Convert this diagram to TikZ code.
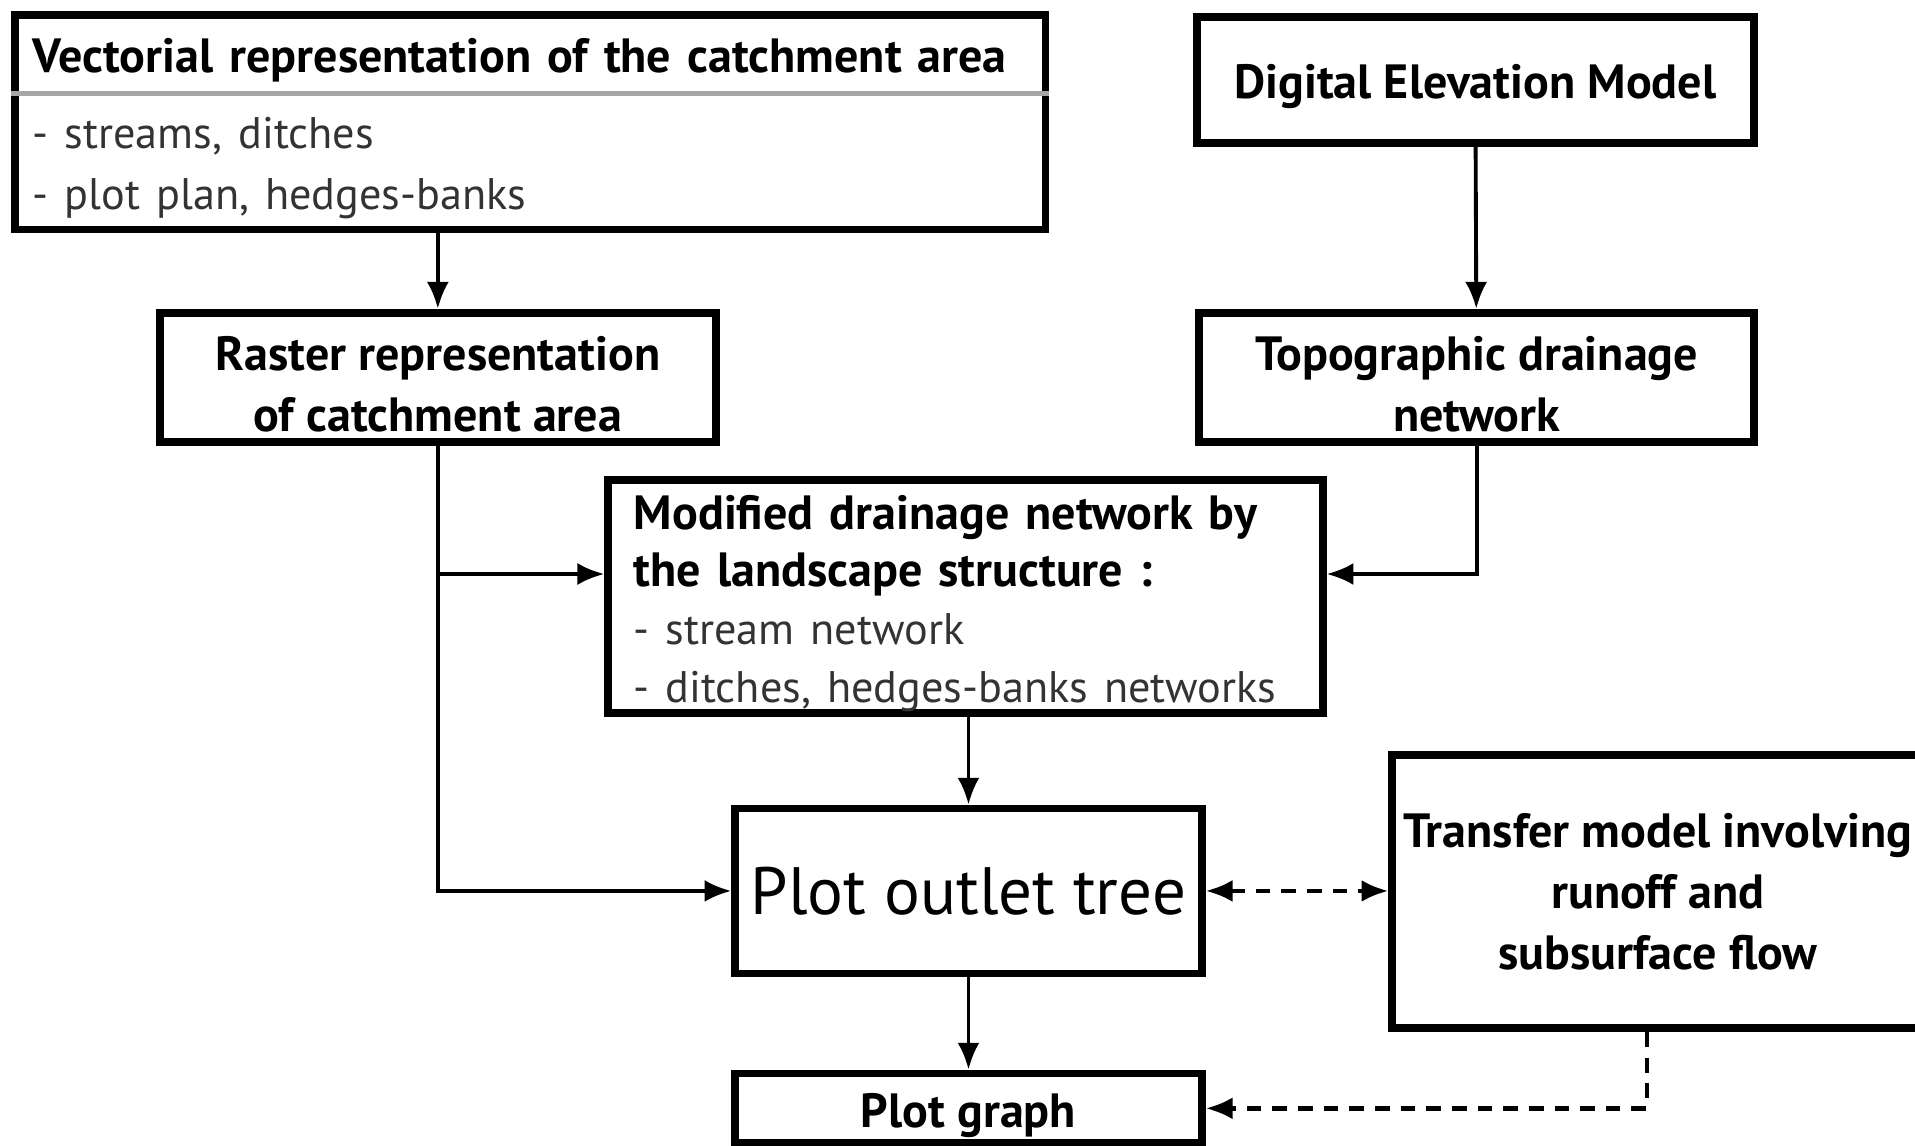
\documentclass[tikz,border=0pt]{standalone}
\usepackage{fontspec}
\setmainfont{PT Sans}
\usetikzlibrary{arrows.meta}
\tikzset{
  box/.style={draw, line width=1.8pt, rectangle, inner sep=0pt, font=\fontsize{11.2}{14.2}\selectfont\bfseries},
  lowtext/.style={text height=0.39cm},
  conn/.style={line width=0.9pt, -{Latex[length=2.2mm,width=1.8mm]}},
  dashconn/.style={conn, dash pattern=on 1.2mm off 0.9mm, line width=1.1pt},
  divider/.style={gray!70, line width=1.2pt},
}
\newcommand{\itemtext}[1]{{\fontsize{10.3}{14.2}\mdseries\color{black!80}#1}}
\newcommand{\topstrut}{\rule{0pt}{0.39cm}}
\begin{document}
\begin{tikzpicture}
      \useasboundingbox (0,0) rectangle (15.68,9.38);
      % boxes
      \node[box, lowtext, minimum width=8.44cm, minimum height=1.76cm, text width=8.14cm, inner xsep=0.15cm, align=left] (vect) at (4.34,8.38)
        {Vectorial representation of the catchment area\\[0.12cm]
         \itemtext{- streams, ditches}\\
         \itemtext{- plot plan, hedges-banks}};
      \draw[divider] ([yshift=-0.68cm]vect.north west) -- ([yshift=-0.68cm]vect.north east);
      \node[box, lowtext, minimum width=4.56cm, minimum height=1.03cm] (dem) at (12.08,8.725) {Digital Elevation Model};
      \node[box, minimum width=4.55cm, minimum height=1.06cm, align=center] (raster) at (3.585,6.29) {\topstrut Raster representation\\of catchment area};
      \node[box, minimum width=4.54cm, minimum height=1.06cm, align=center] (topo) at (12.09,6.29) {\topstrut Topographic drainage\\network};
      \node[box, lowtext, minimum height=1.91cm, text width=5.43cm, inner xsep=0.21cm, align=left, font=\fontsize{11.2}{13.4}\selectfont\bfseries] (modif) at (7.905,4.495)
        {Modified drainage network by\\
         the landscape structure :\\
         \itemtext{- stream network}\\
         \itemtext{- ditches, hedges-banks networks}};
      \node[box, minimum width=3.82cm, minimum height=1.35cm, font=\mdseries\fontsize{15.6}{18}\selectfont] (tree) at (7.93,2.085) {Plot outlet tree};
      \node[box, minimum width=4.35cm, minimum height=2.24cm, align=center] (transfer) at (13.575,2.08) {Transfer model involving\\runoff and\\subsurface flow};
      \node[box, lowtext, minimum width=3.82cm, minimum height=0.57cm] (graph) at (7.93,0.305) {Plot graph};
      % connectors
      \draw[conn] (vect.south -| raster.north) -- (raster.north);
      \draw[conn] (dem) -- (topo);
      \draw[conn] (raster.south) |- (tree.west);
      \draw[conn] (raster.south |- 0,4.68) -- ([yshift=0.185cm]modif.west);
      \draw[conn] (topo.south) |- ([yshift=0.185cm]modif.east);
      \draw[conn] (modif.south -| tree.north) -- (tree.north);
      \draw[conn] (tree) -- (graph);
      \draw[dashconn, {Latex[length=2.2mm,width=1.8mm]}-{Latex[length=2.2mm,width=1.8mm]}] (tree.east) -- (tree.east -| transfer.west);
      \draw[dashconn] ([xshift=-0.09cm]transfer.south) |- (graph.east);
    \end{tikzpicture}
\end{document}
